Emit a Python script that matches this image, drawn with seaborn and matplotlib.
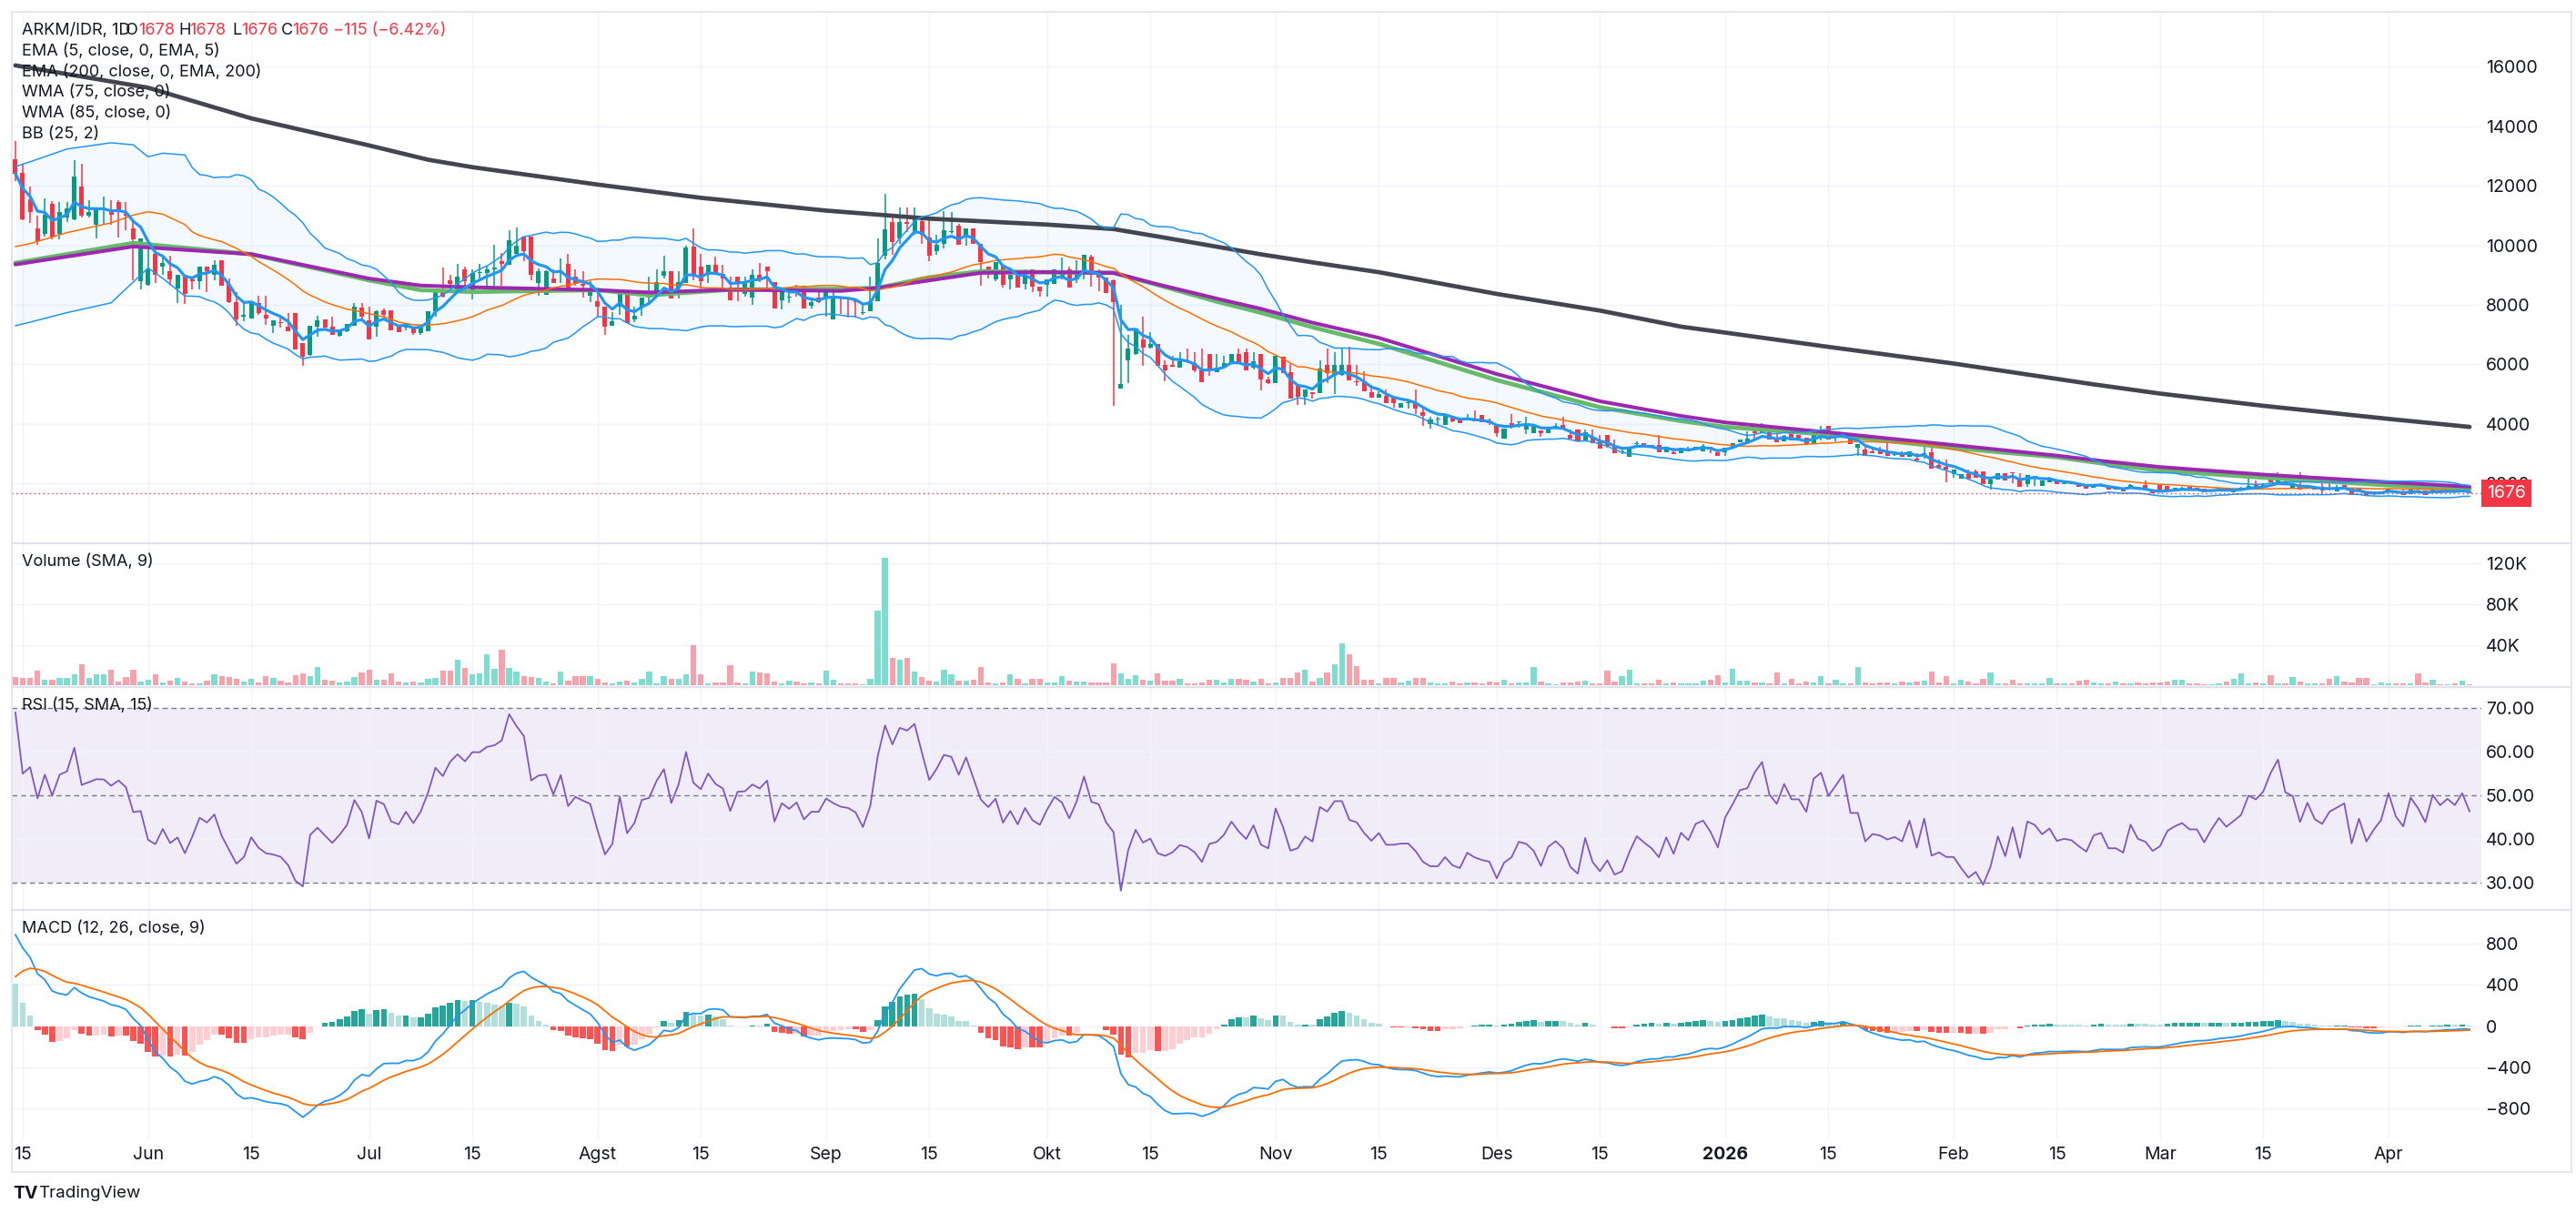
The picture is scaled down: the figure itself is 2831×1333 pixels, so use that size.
import numpy as np
import pandas as pd
import seaborn as sns
import matplotlib.pyplot as plt
import matplotlib.transforms as mtransforms
from matplotlib.lines import Line2D

# Daily candles ARKM/IDR, day 0 = 15 May 2025 (first candle is day -1)
opens = [
    12890, 12430, 11550, 10560, 10380, 11400, 10380, 10930, 10880, 11990,
    10990, 10700, 11200, 11200, 11460, 11050, 10580, 8790, 8680, 9730,
    9300, 9120, 8540, 9000, 8860, 8790, 9300, 9000, 9500, 8710,
    8090, 7600, 7540, 8070, 7680, 7310, 7420, 7270, 7720, 6720,
    6310, 7270, 7510, 7270, 6960, 7130, 7310, 7900, 7480, 7270,
    7830, 7830, 7340, 7230, 7270, 7040, 7130, 7780, 8420, 8830,
    8420, 9210, 8480, 9060, 9060, 9200, 9470, 9350, 9710, 10310,
    10310, 8750, 8330, 8890, 9180, 9380, 8940, 8710, 8300, 8130,
    7950, 7310, 7950, 8480, 7510, 7950, 8250, 8360, 8980, 9120,
    8540, 8750, 9960, 9300, 9000, 9350, 9030, 8560, 8940, 8360,
    8240, 9000, 9300, 8770, 8160, 8240, 8560, 8650, 7970, 8240,
    8280, 7510, 8280, 8260, 8180, 7730, 7780, 8140, 9640, 10780,
    10250, 10800, 10480, 10820, 10270, 9810, 10040, 10450, 10650, 10300,
    10580, 10040, 9280, 8870, 9360, 8850, 9000, 8720, 9180, 8620,
    8670, 8720, 8930, 9180, 8870, 9000, 9610, 9030, 8930, 8820,
    5200, 6150, 6340, 6840, 6560, 6690, 5980, 5980, 5880, 6050,
    6050, 5810, 6360, 5750, 5880, 6050, 6360, 6420, 5880, 6360,
    5500, 5370, 6260, 5730, 5270, 4920, 5070, 5040, 5980, 5630,
    5650, 5980, 5440, 5420, 5070, 4870, 4940, 4900, 4560, 4710,
    4710, 4390, 4000, 4150, 3980, 4230, 4190, 4190, 4190, 4290,
    4120, 4000, 3520, 4020, 4050, 3800, 3680, 3780, 3680, 3900,
    3980, 3620, 3800, 3440, 3550, 3440, 3620, 3270, 3040, 2910,
    3330, 3340, 3300, 3300, 3060, 3060, 3010, 3090, 3140, 3090,
    3240, 3040, 3040, 3190, 3370, 3390, 3750, 3700, 3720, 3510,
    3430, 3680, 3620, 3540, 3310, 3600, 3920, 3600, 3600, 3600,
    3210, 3140, 3070, 3110, 3010, 2960, 2990, 2910, 2830, 2990,
    3040, 2630, 2560, 2300, 2170, 2300, 2400, 2400, 1990, 2120,
    2360, 2360, 2150, 1970, 2230, 1920, 2050, 2090, 1990, 2050,
    2020, 1920, 1850, 1920, 1890, 1790, 1790, 1880, 1890, 1960,
    1760, 1960, 1920, 1820, 1840, 1890, 1860, 1820, 1760, 1820,
    1820, 1690, 1820, 1820, 1940, 1900, 2160, 2040, 2060, 1860,
    1960, 1890, 1790, 1890, 1840, 1720, 1960, 1820, 1820, 1690,
    1640, 1670, 1690, 1700, 1690, 1640, 1760, 1760, 1720, 1730,
    1690, 1760, 1720, 1678,
]
highs = [
    13510, 12750, 11990, 10990, 11570, 11480, 11460, 11460, 12850, 12750,
    11520, 11250, 11640, 11520, 11520, 11460, 10820, 10230, 10170, 9730,
    9650, 9650, 9000, 9000, 8890, 9300, 9300, 9500, 9500, 8880,
    8420, 8100, 8130, 8300, 8300, 7420, 7650, 7740, 7720, 6720,
    7310, 7630, 7510, 7600, 7160, 7370, 8070, 8070, 7950, 7830,
    7890, 7830, 7340, 7370, 7270, 7310, 7780, 8480, 9250, 9000,
    9390, 9300, 9180, 9380, 9300, 10030, 9750, 10520, 10600, 10310,
    10310, 9220, 9150, 9180, 9560, 9730, 9210, 9120, 8790, 8470,
    7950, 7770, 8480, 8480, 7950, 8240, 8950, 9180, 9660, 9120,
    9120, 10000, 10560, 9710, 9300, 9620, 9350, 8950, 8940, 8940,
    9180, 9410, 9300, 8770, 8190, 8600, 8680, 8650, 8180, 8480,
    8480, 8420, 8280, 8260, 8180, 8010, 8950, 10240, 11720, 10950,
    11270, 11290, 11290, 10950, 10880, 10350, 11140, 11120, 10720, 10580,
    10580, 10040, 9300, 9430, 9360, 9000, 9000, 9180, 9180, 8620,
    8850, 9180, 9580, 9300, 9500, 9690, 9690, 9180, 8930, 8870,
    8010, 6990, 7200, 7600, 7100, 6690, 6130, 6280, 6420, 6520,
    6420, 6520, 6360, 6360, 6290, 6360, 6520, 6520, 6420, 6360,
    5600, 6290, 6260, 6000, 5270, 5170, 5070, 6140, 6520, 6420,
    6520, 6590, 5980, 5780, 5300, 5090, 5170, 4900, 4710, 4760,
    5170, 4620, 4250, 4230, 4260, 4280, 4190, 4330, 4460, 4290,
    4190, 4000, 3850, 4330, 4050, 4230, 3920, 3780, 3850, 4020,
    4230, 3820, 3800, 3800, 3800, 3620, 3620, 3480, 3150, 3210,
    3400, 3340, 3300, 3620, 3230, 3200, 3200, 3240, 3240, 3310,
    3240, 3040, 3210, 3340, 3490, 3750, 3800, 4020, 3720, 3670,
    3640, 3680, 3620, 3540, 3780, 3920, 3920, 3640, 3720, 3600,
    3310, 3240, 3240, 3240, 3470, 3080, 3080, 3070, 3010, 3310,
    3290, 2790, 2790, 2460, 2300, 2460, 2460, 2400, 2120, 2360,
    2360, 2360, 2360, 2280, 2250, 2090, 2230, 2090, 2000, 2050,
    2020, 1920, 1950, 2000, 1890, 1820, 1790, 1980, 1890, 2090,
    1760, 1960, 1920, 1860, 1880, 1890, 1860, 1820, 1790, 1860,
    1820, 1800, 1880, 2380, 2090, 2000, 2200, 2370, 2200, 1960,
    2370, 1900, 1800, 2000, 2000, 1940, 1960, 1820, 1820, 1690,
    1680, 1700, 1840, 1700, 1800, 1830, 1800, 1760, 1800, 1760,
    1780, 1780, 1960, 1678,
]
lows = [
    12160, 10850, 10760, 10030, 10290, 10200, 10200, 10780, 10850, 10930,
    10930, 10250, 10700, 10700, 10280, 10520, 8840, 8510, 8630, 8740,
    9000, 8630, 8050, 8040, 8510, 8510, 8420, 8830, 8630, 8070,
    7300, 7450, 7540, 7660, 7330, 7050, 7250, 7110, 6490, 5940,
    6280, 6930, 7230, 6990, 6920, 7080, 7310, 7500, 6840, 6920,
    7600, 7160, 7070, 7150, 7000, 6990, 7130, 7600, 8250, 8590,
    8420, 8480, 8200, 8890, 8510, 8630, 8630, 9350, 9710, 9470,
    8830, 8320, 8330, 8750, 8750, 8510, 8630, 8250, 8090, 7560,
    6990, 7310, 7660, 7390, 7420, 7630, 8010, 8280, 8890, 8210,
    8210, 8750, 8830, 8560, 8740, 9000, 8540, 8160, 8130, 8280,
    8010, 8770, 8480, 7890, 7860, 8070, 8280, 7890, 7890, 8070,
    7600, 7510, 7700, 7560, 7560, 7660, 7780, 8140, 9540, 9690,
    10050, 10450, 10350, 10040, 9480, 9690, 9910, 10400, 10010, 10000,
    10040, 8660, 8890, 8800, 8570, 8520, 8570, 8520, 8420, 8270,
    8270, 8720, 8870, 8590, 8750, 8870, 8600, 8470, 8390, 4610,
    5200, 5370, 6320, 5950, 6540, 5950, 5420, 5910, 5880, 6030,
    5750, 5400, 5620, 5730, 5880, 6050, 6050, 5810, 5830, 5120,
    5340, 5370, 5710, 4840, 4630, 4650, 4850, 5040, 5370, 5000,
    5610, 5470, 5280, 5100, 4870, 4870, 4690, 4560, 4560, 4530,
    4330, 3920, 3850, 3920, 3980, 4060, 4020, 4130, 4100, 4050,
    3980, 3580, 3520, 3850, 3880, 3650, 3680, 3580, 3680, 3820,
    3800, 3520, 3410, 3410, 3340, 3170, 3200, 3010, 3000, 2910,
    3300, 3250, 3190, 3060, 3060, 3000, 3010, 3070, 3140, 3090,
    3020, 2930, 2940, 3190, 3370, 3390, 3510, 3700, 3490, 3390,
    3430, 3440, 3440, 3310, 3310, 3450, 3490, 3420, 3600, 3310,
    2930, 2940, 3010, 2990, 2940, 2940, 2910, 2910, 2760, 2820,
    2500, 2530, 2050, 2180, 2170, 2150, 2190, 1990, 1790, 2120,
    2090, 2000, 1890, 1890, 1920, 1920, 2050, 1970, 1970, 1970,
    1890, 1820, 1850, 1900, 1790, 1780, 1740, 1880, 1790, 1760,
    1660, 1690, 1790, 1790, 1800, 1790, 1790, 1690, 1740, 1790,
    1740, 1690, 1790, 1820, 1850, 1880, 2040, 2040, 1960, 1840,
    1790, 1880, 1780, 1680, 1760, 1720, 1860, 1610, 1740, 1580,
    1620, 1660, 1690, 1660, 1610, 1640, 1720, 1610, 1720, 1710,
    1690, 1710, 1700, 1676,
]
closes = [
    12420, 10890, 11130, 10150, 11020, 10290, 11110, 11250, 12300, 10990,
    11110, 11230, 11220, 11020, 11200, 11000, 10200, 10230, 9180, 9000,
    9400, 8860, 9000, 8380, 8790, 9300, 9140, 9350, 8630, 8090,
    7510, 7660, 8130, 7740, 7530, 7480, 7400, 7110, 6490, 6250,
    7310, 7480, 7230, 6990, 7160, 7370, 7930, 7620, 6840, 7780,
    7680, 7160, 7070, 7370, 7040, 7310, 7780, 8480, 8280, 8710,
    8940, 8790, 9060, 9060, 9210, 9250, 9380, 10170, 9980, 9820,
    9000, 9120, 9140, 8750, 9180, 8510, 8710, 8630, 8560, 7950,
    7270, 7460, 8480, 7390, 7640, 8240, 8300, 8770, 9120, 8210,
    8770, 9920, 9000, 8790, 9350, 9030, 8890, 8160, 8770, 8790,
    9000, 8890, 9120, 7890, 8420, 8240, 8420, 7890, 8090, 8090,
    8420, 8300, 8210, 8180, 8080, 7730, 8140, 9400, 10540, 10110,
    10780, 10720, 10990, 10350, 9640, 10010, 10500, 10450, 10010, 10580,
    10040, 9430, 9200, 9430, 8690, 9000, 8570, 9000, 8620, 8470,
    8850, 9180, 9030, 8590, 9000, 9690, 9000, 8930, 8390, 8080,
    5340, 6520, 7200, 6560, 6690, 5950, 5810, 5910, 6110, 6030,
    5810, 5400, 5830, 5880, 6050, 6360, 6050, 5810, 6110, 5500,
    5370, 6290, 5710, 4840, 4900, 5170, 5000, 5850, 5710, 5980,
    5980, 5470, 5400, 5100, 4870, 5020, 4690, 4690, 4710, 4710,
    4530, 4260, 4150, 4150, 4260, 4080, 4020, 4190, 4100, 4050,
    4020, 3700, 3850, 3900, 4050, 4020, 3920, 3680, 3850, 3900,
    3800, 3520, 3410, 3720, 3340, 3170, 3270, 3010, 3040, 3210,
    3360, 3270, 3190, 3060, 3230, 3000, 3190, 3090, 3240, 3270,
    3140, 2940, 3210, 3340, 3490, 3510, 3680, 3800, 3490, 3390,
    3600, 3440, 3440, 3310, 3650, 3720, 3490, 3600, 3720, 3310,
    3310, 2940, 3010, 2990, 2940, 2960, 2910, 3070, 2760, 3010,
    2500, 2530, 2460, 2460, 2300, 2150, 2190, 1990, 2120, 2360,
    2090, 2350, 1890, 2280, 2230, 2090, 2150, 1970, 1990, 1970,
    1890, 1820, 1950, 1970, 1790, 1790, 1740, 1940, 1790, 1760,
    1660, 1690, 1790, 1820, 1840, 1790, 1790, 1690, 1760, 1820,
    1760, 1790, 1820, 1920, 1900, 1940, 2040, 2120, 1960, 1940,
    1790, 1890, 1790, 1760, 1820, 1840, 1860, 1620, 1740, 1580,
    1640, 1690, 1840, 1690, 1620, 1790, 1720, 1620, 1790, 1720,
    1760, 1720, 1790, 1676,
]
# volume in thousands
volume_k = [
    8.4, 7.2, 7.2, 14.6, 5.7, 5.7, 7.2, 7.2, 11.0, 20.9,
    7.5, 11.0, 11.0, 15.5, 3.9, 8.4, 15.5, 3.9, 5.7, 11.0,
    3.0, 4.8, 7.2, 3.9, 2.1, 2.1, 4.8, 11.0, 9.3, 8.4,
    6.6, 3.9, 6.6, 3.0, 9.3, 7.5, 4.8, 3.0, 10.1, 11.9,
    9.3, 18.2, 5.7, 4.8, 3.0, 3.9, 8.4, 12.8, 15.5, 5.7,
    5.7, 11.9, 3.9, 3.0, 3.9, 3.0, 6.6, 7.5, 14.6, 14.6,
    25.4, 17.3, 11.0, 11.9, 30.7, 16.4, 35.2, 17.3, 13.7, 9.3,
    8.4, 7.5, 3.9, 2.1, 13.7, 4.8, 9.3, 9.3, 9.3, 6.6,
    3.0, 2.1, 3.9, 4.8, 3.0, 6.6, 13.7, 2.1, 9.3, 6.6,
    6.6, 11.0, 39.7, 11.0, 2.1, 3.0, 3.0, 20.0, 3.0, 2.1,
    13.7, 12.8, 11.9, 3.9, 2.1, 4.8, 3.9, 2.1, 3.0, 2.1,
    14.6, 5.7, 2.1, 2.1, 2.1, 1.2, 6.6, 73.7, 126.0, 27.2,
    25.4, 27.2, 13.7, 8.4, 4.8, 3.9, 15.5, 11.0, 4.8, 4.8,
    5.7, 18.2, 3.0, 2.1, 3.0, 11.0, 6.6, 2.1, 6.6, 6.6,
    3.0, 3.0, 9.3, 4.8, 3.9, 3.9, 3.0, 3.0, 3.0, 21.8,
    11.9, 6.6, 10.1, 5.7, 4.8, 11.9, 4.8, 4.8, 6.6, 2.1,
    2.1, 3.0, 5.7, 5.7, 3.0, 6.6, 6.6, 5.7, 3.9, 6.6,
    2.1, 3.0, 7.5,
    7.2, 12.8, 15.5, 3.9, 7.2, 12.8, 20.9, 41.5, 30.7, 19.1,
    5.7, 5.7, 2.1, 7.5, 7.5, 3.0, 4.8, 7.5, 7.5, 3.0,
    2.1, 2.1, 3.9, 2.1, 3.0, 3.0, 2.1, 3.9, 3.0, 5.7,
    2.1, 3.0, 3.0, 18.2, 3.9, 2.1, 1.2, 3.0, 3.0, 3.9,
    4.8, 2.1, 2.1, 14.6, 3.9, 9.3, 15.5, 2.1, 2.1, 2.1,
    5.7, 2.1, 3.0, 2.1, 2.1, 2.1, 4.8, 5.7, 10.1, 3.0,
    16.4, 4.8, 4.8, 3.0, 3.0, 2.1, 12.8, 2.1, 6.6, 2.1,
    3.9, 3.0, 9.3, 2.1, 5.7, 2.1, 2.1, 18.2, 3.0, 2.1,
    3.0, 3.0, 2.1, 3.9, 3.0, 3.9, 4.8, 13.7, 3.0, 9.3,
    2.1, 5.7, 3.9, 2.1, 6.6, 12.8, 2.1, 2.1, 5.7, 2.1,
    2.1, 2.1, 2.1, 7.2, 2.1, 2.1, 2.1, 4.8, 5.7, 3.0,
    2.1, 2.1, 3.9, 2.1, 2.1, 3.0, 2.1, 3.0, 3.0, 3.9,
    5.7, 5.7, 2.1, 2.1, 1.2, 1.2, 2.1, 3.9, 6.6, 11.9,
    2.1, 3.0, 2.1, 10.1, 2.1, 2.1, 8.4, 3.9, 2.1, 2.1,
    2.1, 6.6, 9.3, 3.9, 3.0, 7.5, 7.5, 1.2, 3.0, 2.1,
    2.1, 2.1, 2.1, 11.9, 3.0, 5.7, 1.2, 1.2, 2.1, 4.8,
    1.2,
]

# slow lines (day, value)
ema200_days = [-1, 17, 31, 47, 55, 61, 78, 92, 109, 123, 139, 148, 154, 168, 175,
               184, 200, 214, 225, 231, 245, 262, 281, 290, 304, 321, 332]
ema200_vals = [16050, 15300, 14270, 13360, 12880, 12630, 12045, 11600, 11170, 10900,
               10700, 10550, 10300, 9700, 9430, 9100, 8370, 7810, 7270, 7070, 6590,
               6030, 5330, 5020, 4610, 4170, 3900]
wma_days = [-1, 15, 31, 47, 54, 61, 78, 85, 96, 111, 116, 123, 130, 139, 148, 154,
            162, 168, 175, 184, 200, 214, 225, 231, 245, 262, 276, 282, 290, 304, 321, 332]
wma75_vals = [9410, 10080, 9705, 8830, 8500, 8440, 8500, 8325, 8512, 8540, 8570, 8925,
              9128, 9100, 9077, 8671, 8113, 7740, 7250, 6692, 5474, 4560, 4100, 3899,
              3646, 3189, 2884, 2680, 2431, 2196, 1941, 1818]
wma85_vals = [9360, 9963, 9705, 8886, 8652, 8594, 8500, 8418, 8512, 8470, 8570, 8823,
              9077, 9100, 9077, 8692, 8214, 7870, 7403, 6895, 5677, 4763, 4270, 4052,
              3717, 3290, 2935, 2760, 2553, 2298, 2043, 1890]
# Bollinger band before a full 25-day window is on screen
bb_early_days = [-1, 1, 6, 12, 15, 17, 19, 22]
bb_early_upper = [12650, 12810, 13240, 13450, 13380, 12980, 13100, 13040]
bb_early_basis = [9960, 10060, 10430, 10760, 11020, 11130, 11050, 10700]
bb_early_lower = [7300, 7420, 7740, 8070, 8770, 9240, 8890, 8300]

# indicator states at the first bar
rsi_seed_gain, rsi_seed_loss = 295.0, 132.0
ema12_seed, ema26_seed, signal_seed = 11700.0, 10810.0, 480.0

tick_days = [0, 17, 31, 47, 61, 78, 92, 109, 123, 139, 153, 170, 184, 200, 214, 231,
             245, 262, 276, 290, 304, 321]
tick_labels = ["15", "Jun", "15", "Jul", "15", "Agst", "15", "Sep", "15", "Okt", "15",
               "Nov", "15", "Des", "15", "2026", "15", "Feb", "15", "Mar", "15", "Apr"]

UP, DOWN = "#089981", "#F23645"
TXT = "#131722"
GRID = "#F0F3FA"
AX_FS = 14
LEG_FS = 13

sns.set_theme(style="white")
plt.rcParams["font.family"] = ["Inter", "DejaVu Sans"]

days = np.arange(-1, -1 + len(closes))
o = np.array(opens, float)
h = np.array(highs, float)
l = np.array(lows, float)
c = np.array(closes, float)
up = c >= o
cs = pd.Series(c)

# indicators
ema5 = cs.ewm(span=5, adjust=False).mean().values
bb_mid = cs.rolling(25).mean().values
bb_sd = cs.rolling(25).std(ddof=0).values
bb_days = np.concatenate([bb_early_days, days[24:]])
bb_up = np.concatenate([bb_early_upper, (bb_mid + 2 * bb_sd)[24:]])
bb_lo = np.concatenate([bb_early_lower, (bb_mid - 2 * bb_sd)[24:]])
bb_md = np.concatenate([bb_early_basis, bb_mid[24:]])

ag, al = [rsi_seed_gain], [rsi_seed_loss]
for d in np.diff(c):
    ag.append((ag[-1] * 14 + max(d, 0)) / 15)
    al.append((al[-1] * 14 + max(-d, 0)) / 15)
rsi = 100 - 100 / (1 + np.array(ag) / np.array(al))

e12, e26 = [ema12_seed], [ema26_seed]
for v in c[1:]:
    e12.append(e12[-1] + (v - e12[-1]) * 2 / 13)
    e26.append(e26[-1] + (v - e26[-1]) * 2 / 27)
macd = np.array(e12) - np.array(e26)
sig = [signal_seed]
for m in macd[1:]:
    sig.append(sig[-1] + (m - sig[-1]) * 0.2)
sig = np.array(sig)
hist = macd - sig
hist_col = []
for i, v in enumerate(hist):
    prev = hist[i - 1] if i else v
    if v >= 0:
        hist_col.append("#26A69A" if v > prev else "#B2DFDB")
    else:
        hist_col.append("#FFCDD2" if v > prev else "#FF5252")

# figure layout in pixels
W, H = 2831, 1333
fig = plt.figure(figsize=(W / 100, H / 100), dpi=100)
fig.patch.set_facecolor("white")
L0, R0 = 13, 2727


def panel(top, bottom, share=None):
    return fig.add_axes([L0 / W, 1 - bottom / H, (R0 - L0) / W, (bottom - top) / H],
                        sharex=share)


ax_p = panel(13, 597)
ax_v = panel(597, 755, ax_p)
ax_r = panel(755, 1000, ax_p)
ax_m = panel(1000, 1252, ax_p)

for ax in (ax_p, ax_v, ax_r, ax_m):
    ax.set_facecolor("white")
    for s in ax.spines.values():
        s.set_visible(False)
    ax.yaxis.tick_right()
    ax.tick_params(axis="y", length=0, pad=3.5, labelsize=AX_FS, labelcolor=TXT)
    ax.tick_params(axis="x", length=0, pad=5.5, labelsize=AX_FS, labelcolor=TXT,
                   labelbottom=False)
    ax.set_xticks(tick_days)
    ax.grid(True, color=GRID, linewidth=1)
    ax.set_axisbelow(True)
ax_p.set_xlim(-1.48, 333.6)

# price panel
ax_p.fill_between(bb_days, bb_lo, bb_up, color="#2196F3", alpha=0.05, linewidth=0, zorder=1)
cols = np.where(up, UP, DOWN)
ax_p.vlines(days, l, h, colors=cols, linewidth=1.1, zorder=2)
body = np.maximum(np.abs(c - o), 30)
ax_p.bar(days, body, bottom=np.minimum(o, c), width=0.62, color=cols, linewidth=0, zorder=2.1)
sns.lineplot(x=ema200_days, y=ema200_vals, ax=ax_p, color="#434651", linewidth=3.4, zorder=3)
sns.lineplot(x=wma_days, y=wma75_vals, ax=ax_p, color="#66BB6A", linewidth=3.4, zorder=3.1)
sns.lineplot(x=wma_days, y=wma85_vals, ax=ax_p, color="#9C27B0", linewidth=2.9, zorder=3.2)
sns.lineplot(x=bb_days, y=bb_up, ax=ax_p, color="#2196F3", linewidth=1.1, zorder=3.3)
sns.lineplot(x=bb_days, y=bb_lo, ax=ax_p, color="#2196F3", linewidth=1.1, zorder=3.3)
sns.lineplot(x=bb_days, y=bb_md, ax=ax_p, color="#FF6D00", linewidth=1.1, zorder=3.3)
sns.lineplot(x=days, y=ema5, ax=ax_p, color="#2196F3", linewidth=2.3, zorder=3.4)
ax_p.axhline(c[-1], color=DOWN, linewidth=1, linestyle=(0, (1, 2.5)), zorder=3.5)
ax_p.set_ylim(-10, 17850)
ax_p.set_yticks(range(2000, 16001, 2000))
ax_p.set_yticklabels([str(v) for v in range(2000, 16001, 2000)])
trans = mtransforms.blended_transform_factory(ax_p.transAxes, ax_p.transData)
ax_p.text(1 + 6 / (R0 - L0), c[-1], "1676", transform=trans, ha="left", va="center",
          color="white", fontsize=AX_FS, clip_on=False, zorder=10,
          bbox=dict(boxstyle="square,pad=0.3", fc=DOWN, ec="none"))

# volume panel
vcols = np.where(up, "#7DDDD0", "#F7A1AC")
ax_v.bar(days, volume_k, width=0.78, color=vcols, linewidth=0, zorder=2)
ax_v.set_ylim(-1.5, 140)
ax_v.set_yticks([40, 80, 120])
ax_v.set_yticklabels(["40K", "80K", "120K"])

# RSI panel
ax_r.axhspan(30, 70, color="#7E57C2", alpha=0.1, linewidth=0, zorder=0.5)
for lv in (70, 50, 30):
    ax_r.axhline(lv, color="#787B86", linewidth=1, linestyle=(0, (4, 3)), zorder=1)
sns.lineplot(x=days, y=rsi, ax=ax_r, color="#7E57C2", linewidth=1.3, zorder=3)
ax_r.set_ylim(23.7, 74.9)
ax_r.set_yticks([30, 40, 50, 60, 70])
ax_r.set_yticklabels(["30.00", "40.00", "50.00", "60.00", "70.00"])

# MACD panel
ax_m.bar(days, hist, width=0.82, color=hist_col, linewidth=0, zorder=2)
sns.lineplot(x=days, y=macd, ax=ax_m, color="#2196F3", linewidth=1.3, zorder=3)
sns.lineplot(x=days, y=sig, ax=ax_m, color="#FF6D00", linewidth=1.3, zorder=3)
ax_m.set_ylim(-1102, 1129)
ax_m.set_yticks([-800, -400, 0, 400, 800])
ax_m.set_yticklabels(["\u2212800", "\u2212400", "0", "400", "800"])
ax_m.tick_params(axis="x", labelbottom=True)
ax_m.set_xticklabels(tick_labels)
for t in ax_m.get_xticklabels():
    if t.get_text() == "2026":
        t.set_fontweight("bold")

for ax in (ax_p, ax_v, ax_r, ax_m):
    ax.set_xlabel("")
    ax.set_ylabel("")

# frame and separators
for y in (597, 755, 1000):
    fig.add_artist(Line2D([L0 / W, 2826 / W], [1 - y / H] * 2, color="#E0E3EB", lw=1.6))
for y in (13, 1288):
    fig.add_artist(Line2D([L0 / W, 2826 / W], [1 - y / H] * 2, color="#E0E3EB", lw=1.2))
for x in (L0, 2826):
    fig.add_artist(Line2D([x / W] * 2, [1 - 13 / H, 1 - 1288 / H], color="#E0E3EB", lw=1.2))


def ftext(x, y, s, **kw):
    kw.setdefault("fontsize", LEG_FS)
    kw.setdefault("color", TXT)
    fig.text(x / W, 1 - y / H, s, ha="left", va="center", **kw)


# legend
runs = [(24, "ARKM/IDR, 1D", TXT), (138, "O", TXT), (152, "1678", DOWN), (196, "H", TXT),
        (208, "1678", DOWN), (255, "L", TXT), (265, "1676", DOWN), (309, "C", TXT),
        (321, "1676", DOWN), (366, "\u2212115 (\u22126.42%)", DOWN)]
for x, s, col in runs:
    ftext(x, 33.5, s, color=col)
for i, s in enumerate(["EMA (5, close, 0, EMA, 5)", "EMA (200, close, 0, EMA, 200)",
                       "WMA (75, close, 0)", "WMA (85, close, 0)", "BB (25, 2)"]):
    ftext(24, 56.2 + 22.7 * i, s)
ftext(24, 617, "Volume (SMA, 9)")
ftext(24, 775, "RSI (15, SMA, 15)")
ftext(24, 1020, "MACD (12, 26, close, 9)")

# footer logo
ftext(14, 1312, "TV", fontsize=14, fontweight="bold")
ftext(42, 1312, "TradingView", fontsize=13.5)

fig.savefig("out.png", dpi=100, facecolor="white")
